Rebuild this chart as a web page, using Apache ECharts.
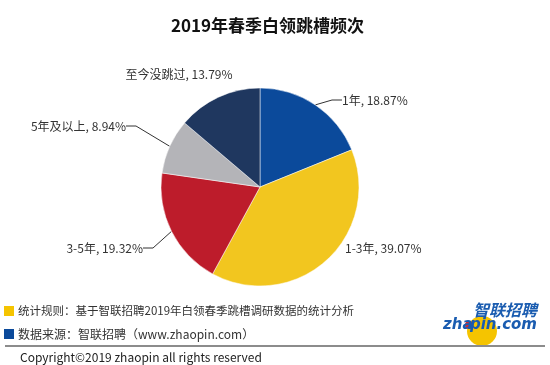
<!DOCTYPE html>
<html><head><meta charset="utf-8">
<script src="https://cdn.jsdelivr.net/npm/echarts@6/dist/echarts.min.js"></script>
<style>html,body{margin:0;padding:0;background:#fff}#c{width:550px;height:365px}</style>
</head><body><div id="c"></div>
<script>
const categories = ['1年', '1-3年', '3-5年', '5年及以上', '至今没跳过'];
const values = [18.87, 39.07, 19.32, 8.94, 13.79];
const colors = ['#0b4a9b', '#f2c61f', '#bd1c2b', '#b4b4b8', '#1f375f'];
const titleText = '2019年春季白领跳槽频次';
const noteRule = '统计规则：基于智联招聘2019年白领春季跳槽调研数据的统计分析';
const noteSource = '数据来源：智联招聘（www.zhaopin.com）';
const copyright = 'Copyright©2019 zhaopin all rights reserved';

// label anchor placement (layout only)
const labelPos = [
  {x: 342, y: 100, align: 'left'},
  {x: 345, y: 248, align: 'left'},
  {x: 143, y: 248, align: 'right'},
  {x: 126, y: 126, align: 'right'},
  {x: 179, y: 74, align: 'center'}
];
const showLine = [true, false, true, true, false];

const chart = echarts.init(document.getElementById('c'), null, {renderer: 'canvas'});
const font = '"Noto Sans CJK SC", "Noto Sans", sans-serif';
chart.setOption({
  animation: false,
  title: {text: titleText, left: 166, top: 12,
    textStyle: {fontSize: 17, fontWeight: 'bold', color: '#111', fontFamily: font}},
  series: [{
    type: 'pie', center: [260, 187], radius: 99, startAngle: 90, clockwise: true,
    data: categories.map((c, i) => ({name: c, value: values[i], itemStyle: {color: colors[i]},
      labelLine: {show: showLine[i]}})),
    itemStyle: {borderColor: '#fff', borderWidth: 0.5},
    label: {formatter: p => p.name + ', ' + p.value.toFixed(2) + '%', fontSize: 12, color: '#333', fontFamily: font},
    labelLine: {length: 12, length2: 10, lineStyle: {color: '#333', width: 1}},
    labelLayout: p => ({x: labelPos[p.dataIndex].x, y: labelPos[p.dataIndex].y,
      align: labelPos[p.dataIndex].align, verticalAlign: 'middle'})
  }],
  graphic: [
    {type: 'rect', shape: {x: 4, y: 306, width: 10, height: 10}, style: {fill: '#f5c400'}},
    {type: 'rect', shape: {x: 4, y: 329, width: 10, height: 10}, style: {fill: '#0b4a9b'}},
    {type: 'text', x: 18, y: 311, style: {text: noteRule, font: '11.5px ' + font, fill: '#333', textVerticalAlign: 'middle'}},
    {type: 'text', x: 18, y: 334, style: {text: noteSource, font: '12px ' + font, fill: '#333', textVerticalAlign: 'middle'}},
    {type: 'circle', shape: {cx: 482, cy: 331, r: 15}, style: {fill: '#f5c400'}},
    {type: 'rect', shape: {x: 0, y: 345, width: 550, height: 4}, style: {fill: '#fff'}},
    {type: 'line', shape: {x1: 5, y1: 346, x2: 545, y2: 346}, style: {stroke: '#666', lineWidth: 1.5}},
    {type: 'text', x: 20, y: 357, style: {text: copyright, font: '12px ' + font, fill: '#222', textVerticalAlign: 'middle'}},
    {type: 'circle', shape: {cx: 469, cy: 325, r: 4}, style: {fill: '#d9272e'}},
    {type: 'text', x: 537, y: 310, style: {text: '智联招聘', font: 'italic bold 16px ' + font, fill: '#1a5cb0', textAlign: 'right', textVerticalAlign: 'middle'}},
    {type: 'text', x: 443, y: 325, style: {text: 'zha', font: 'italic bold 15px "DejaVu Sans", sans-serif', fill: '#1a5cb0', textVerticalAlign: 'middle'}},
    {type: 'text', x: 537, y: 325, style: {text: 'pin.com', font: 'italic bold 15px "DejaVu Sans", sans-serif', fill: '#1a5cb0', textAlign: 'right', textVerticalAlign: 'middle'}}
  ]
});
</script></body></html>
